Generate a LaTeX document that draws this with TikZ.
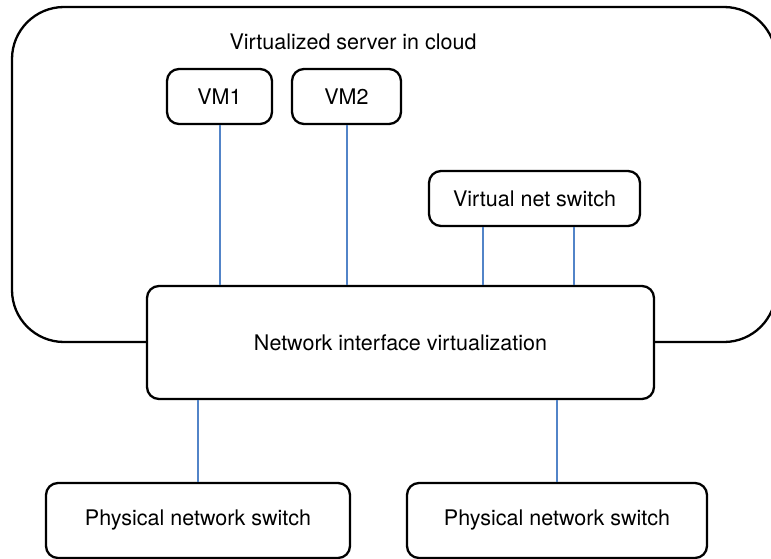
\documentclass[tikz,border=0pt]{standalone}
\usepackage{fontspec}
\setmainfont{TeX Gyre Heros}
\usepackage{tikz}
\usetikzlibrary{calc,positioning}
\definecolor{linkblue}{RGB}{82,132,200}

\tikzset{
  box/.style={draw,line width=2.3pt,rounded corners=12pt,fill=white,inner sep=0pt,
    font=\fontsize{21.5}{26}\selectfont},
  link/.style={draw=linkblue,line width=2pt}
}

\begin{document}
\begin{tikzpicture}[x=1pt,y=-1pt]
  \useasboundingbox (0,0) rectangle (771,559);
  \clip (0,0) rectangle (771,559);
  % server outline
  \draw[line width=2.3pt,rounded corners=52pt] (12,7) rectangle (776,342);
  \node[font=\fontsize{21.5}{26}\selectfont] (title) at (353,42) {Virtualized server in cloud};

  \node[box,minimum width=105pt,minimum height=55pt] (vm1) at (219.5,96.5) {VM1};
  \node[box,minimum width=109pt,minimum height=55pt] (vm2) at (346.5,96.5) {VM2};
  \node[box,minimum width=211pt,minimum height=55pt] (vns) at (534.5,198.5) {Virtual net switch};
  \node[box,minimum width=507pt,minimum height=113pt] (niv) at (400.5,342.5) {Network interface virtualization};
  \node[box,minimum width=304pt,minimum height=75pt] (phys1) at (198,520.5) {Physical network switch};
  \node[box,minimum width=300pt,minimum height=75pt] (phys2) at (557,520.5) {Physical network switch};

  \coordinate (vnsa) at ($(vns.south west)!0.26!(vns.south east)$);
  \coordinate (vnsb) at ($(vns.south west)!0.687!(vns.south east)$);

  \draw[link] (vm1.south) -- (vm1.south |- niv.north);
  \draw[link] (vm2.south) -- (vm2.south |- niv.north);
  \draw[link] (vnsa) -- (vnsa |- niv.north);
  \draw[link] (vnsb) -- (vnsb |- niv.north);
  \draw[link] (phys1.north |- niv.south) -- (phys1.north);
  \draw[link] (phys2.north |- niv.south) -- (phys2.north);
\end{tikzpicture}
\end{document}
